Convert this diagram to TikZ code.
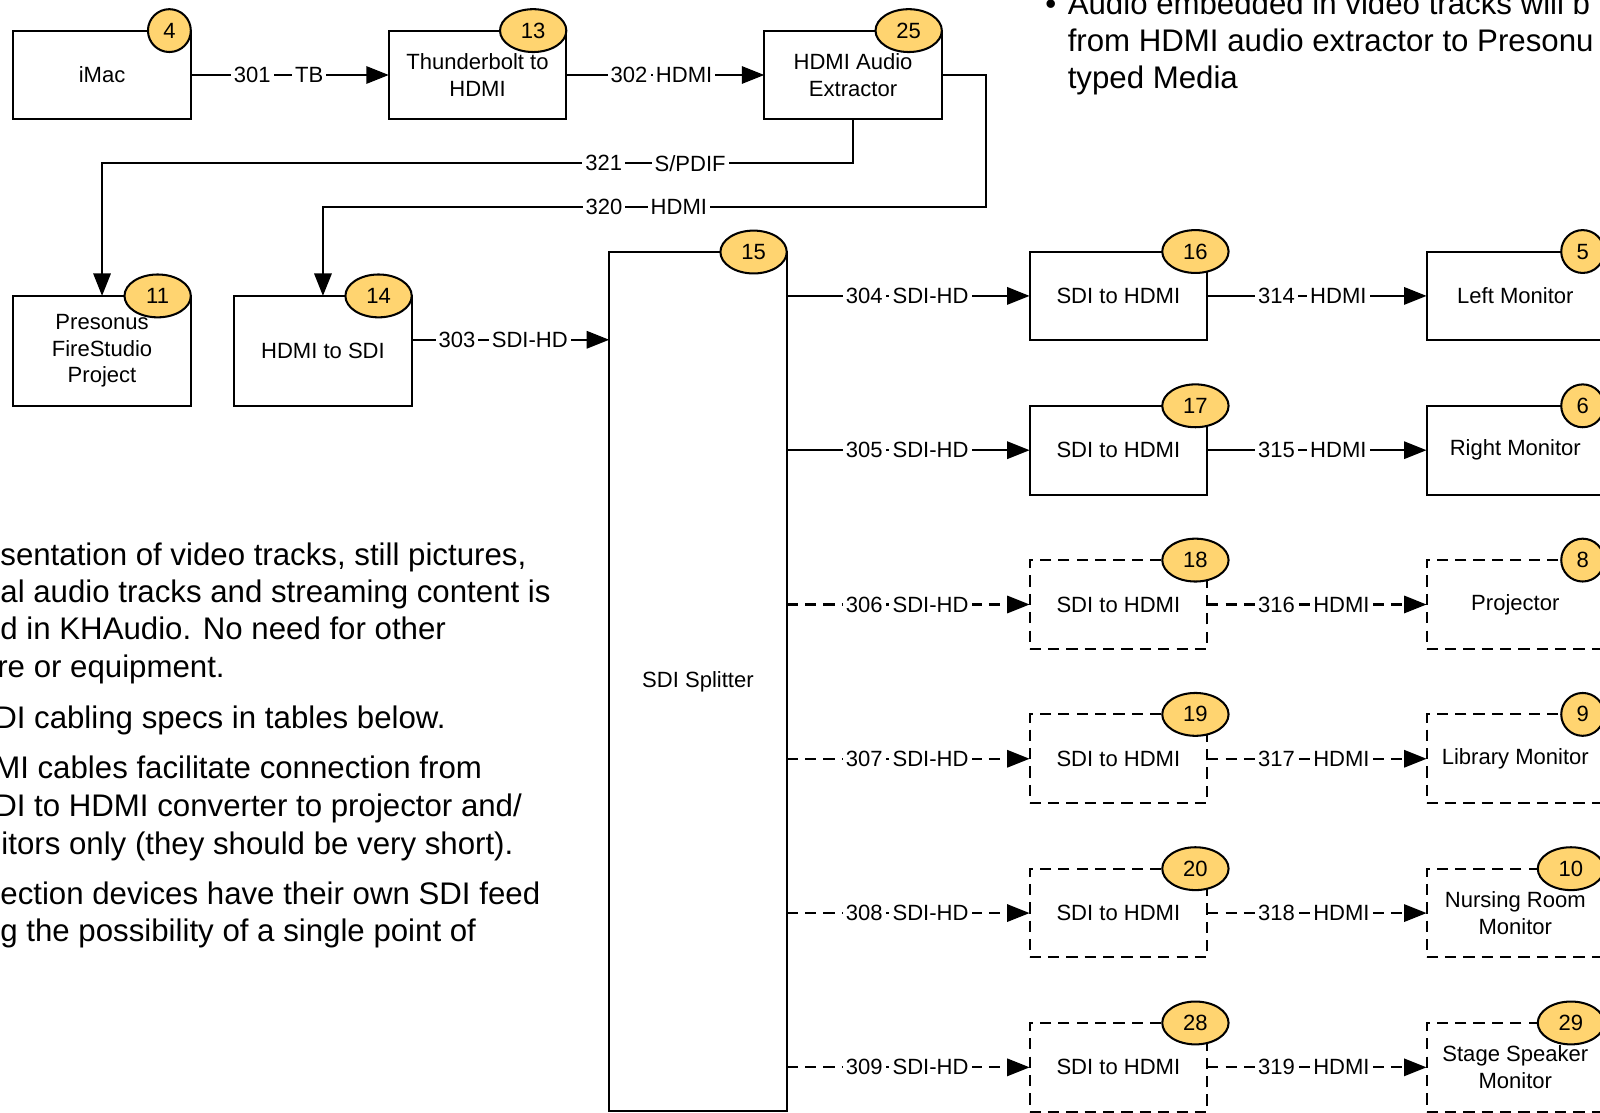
\documentclass[tikz,border=0pt]{standalone}
\usepackage{fontspec}
\setmainfont{Liberation Sans}
\usetikzlibrary{shapes.geometric,arrows.meta,calc}
\definecolor{badgefill}{HTML}{FFD470}
\tikzset{
 nodefont/.style={font=\fontsize{10.8}{13}\selectfont},
 box/.style={draw, line width=1pt, minimum width=87pt, minimum height=43.5pt, inner sep=0pt, outer sep=0pt, align=center, nodefont},
 tallbox/.style={box, minimum height=54pt},
 dbox/.style={box, dash pattern=on 5.5pt off 3.5pt},
 badge/.style={draw, line width=1pt, fill=badgefill, ellipse, minimum width=32.5pt, minimum height=21pt, inner sep=0pt, outer sep=0pt, anchor=east, nodefont},
 cbadge/.style={badge, minimum width=21pt},
 sbadge/.style={badge, xshift=10.5pt},
 conn/.style={line width=1pt, -{Triangle[length=11pt,width=8.5pt]}},
 dconn/.style={conn, dash pattern=on 5.5pt off 3.5pt},
 lbl/.style={fill=white, inner xsep=1.5pt, inner ysep=1pt, nodefont},
 note/.style={anchor=base west, inner sep=0pt, font=\fontsize{15.3}{18.4}\selectfont},
}
\begin{document}
\begin{tikzpicture}[x=0.5pt,y=-0.5pt]
\useasboundingbox (0,0) rectangle (1568,1090);
\clip (0,0) rectangle (1568,1090);

% boxes
\node[box] (imac) at (100,73.5) {iMac};
\node[box] (tb) at (468,73.5) {Thunderbolt to\\HDMI};
\node[box] (ext) at (836,73.5) {HDMI Audio\\Extractor};
\node[tallbox] (pres) at (100,344) {Presonus\\FireStudio\\Project};
\node[tallbox] (hdmisdi) at (316.5,344) {HDMI to SDI};
\node[box, minimum height=421pt] (split) at (684,668) {SDI Splitter};

\node[box]  (c16) at (1096,290)   {SDI to HDMI};
\node[box]  (c17) at (1096,441.2) {SDI to HDMI};
\node[dbox] (c18) at (1096,592.4) {SDI to HDMI};
\node[dbox] (c19) at (1096,743.6) {SDI to HDMI};
\node[dbox] (c20) at (1096,894.8) {SDI to HDMI};
\node[dbox] (c28) at (1096,1046)  {SDI to HDMI};

\node[box]  (m5)  at (1485,290)   {Left Monitor};
\node[box]  (m6)  at (1485,441.2) {Right Monitor};
\node[dbox] (m8)  at (1485,592.4) {Projector};
\node[dbox] (m9)  at (1485,743.6) {Library Monitor};
\node[dbox] (m10) at (1485,894.8) {Nursing Room\\Monitor};
\node[dbox] (m29) at (1485,1046)  {Stage Speaker\\Monitor};

% top connectors
\draw[conn] (imac) -- (tb)
  node[lbl,pos=0.31] {301} node[lbl,pos=0.598] {TB};
\draw[conn] (tb) -- (ext)
  node[lbl,pos=0.317] {302} node[lbl,pos=0.595] {HDMI};
\coordinate (k320) at (966,203);
\draw[conn] (ext.east) -| (k320) -- (hdmisdi.north |- k320)
  node[lbl,pos=0.576] {320} node[lbl,pos=0.463] {HDMI} -- (hdmisdi.north);
\coordinate (k321) at (836,160);
\draw[conn] (ext.south) -- (k321) -- (pres.north |- k321)
  node[lbl,pos=0.332] {321} node[lbl,pos=0.217] {S/PDIF} -- (pres.north);
\coordinate (p303) at ([yshift=5.5pt]hdmisdi.east);
\draw[conn] (p303) -- (split.west |- p303)
  node[lbl,pos=0.229] {303} node[lbl,pos=0.598] {SDI-HD};

% splitter outputs
\draw[conn] (split.east |- c16) -- (c16) node[lbl,pos=0.319] {304} node[lbl,pos=0.592] {SDI-HD};
\draw[conn] (split.east |- c17) -- (c17) node[lbl,pos=0.319] {305} node[lbl,pos=0.592] {SDI-HD};
\draw[dconn] (split.east |- c18) -- (c18) node[lbl,pos=0.319] {306} node[lbl,pos=0.592] {SDI-HD};
\draw[dconn] (split.east |- c19) -- (c19) node[lbl,pos=0.319] {307} node[lbl,pos=0.592] {SDI-HD};
\draw[dconn] (split.east |- c20) -- (c20) node[lbl,pos=0.319] {308} node[lbl,pos=0.592] {SDI-HD};
\draw[dconn] (split.east |- c28) -- (c28) node[lbl,pos=0.319] {309} node[lbl,pos=0.592] {SDI-HD};

% converter outputs
\draw[conn] (c16) -- (m5) node[lbl,pos=0.316] {314} node[lbl,pos=0.598] {HDMI};
\draw[conn] (c17) -- (m6) node[lbl,pos=0.316] {315} node[lbl,pos=0.598] {HDMI};
\draw[dconn] (c18) -- (m8)  node[lbl,pos=0.316] {316} node[lbl,pos=0.612] {HDMI};
\draw[dconn] (c19) -- (m9)  node[lbl,pos=0.316] {317} node[lbl,pos=0.612] {HDMI};
\draw[dconn] (c20) -- (m10) node[lbl,pos=0.316] {318} node[lbl,pos=0.612] {HDMI};
\draw[dconn] (c28) -- (m29) node[lbl,pos=0.316] {319} node[lbl,pos=0.612] {HDMI};

% badges
\node[cbadge] (b4)  at (imac.north east) {4};
\node[badge]  (b13) at (tb.north east) {13};
\node[badge]  (b25) at (ext.north east) {25};
\node[badge]  (b11) at (pres.north east) {11};
\node[badge]  (b14) at (hdmisdi.north east) {14};
\node[badge]  (b15) at (split.north east) {15};
\node[sbadge] (b16) at (c16.north east) {16};
\node[sbadge] (b17) at (c17.north east) {17};
\node[sbadge] (b18) at (c18.north east) {18};
\node[sbadge] (b19) at (c19.north east) {19};
\node[sbadge] (b20) at (c20.north east) {20};
\node[sbadge] (b28) at (c28.north east) {28};
\node[cbadge] (b5)  at (m5.north east) {5};
\node[cbadge] (b6)  at (m6.north east) {6};
\node[cbadge] (b8)  at (m8.north east) {8};
\node[cbadge] (b9)  at (m9.north east) {9};
\node[badge]  (b10) at (m10.north east) {10};
\node[badge]  (b29) at (m29.north east) {29};

% notes, top right
\node[note] (tr0) at (1024,14) {•};
\node[note] (tr1) at (1046,14) {Audio embedded in video tracks will b};
\node[note] (tr2) at (1046,50.5) {from HDMI audio extractor to Presonu};
\node[note] (tr3) at (1046,87) {typed Media};

% notes, left
\node[note] (l1)  at (0,554)   {sentation of video tracks, still pictures,};
\node[note] (l2)  at (0,590.5) {al audio tracks and streaming content is};
\node[note] (l3)  at (0,627)   {d in KHAudio. No need for other};
\node[note] (l4)  at (-3,664)  {re or equipment.};
\node[note] (l5)  at (-6,714)  {DI cabling specs in tables below.};
\node[note] (l6)  at (-6,763)  {MI cables facilitate connection from};
\node[note] (l7)  at (-6,800)  {DI to HDMI converter to projector and/};
\node[note] (l8)  at (1,837)   {itors only (they should be very short).};
\node[note] (l9)  at (0,886)   {ection devices have their own SDI feed};
\node[note] (l10) at (0,923)   {g the possibility of a single point of};
\end{tikzpicture}
\end{document}
